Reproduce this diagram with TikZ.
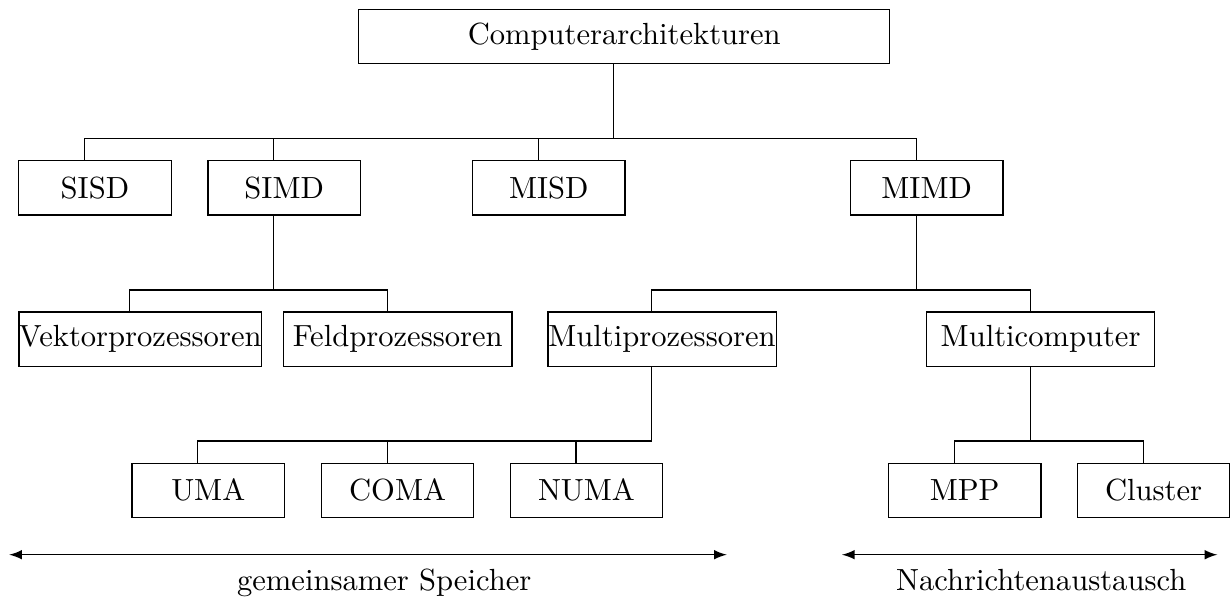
\documentclass[tikz,border=0pt]{standalone}
\usetikzlibrary{arrows}

% one drawing unit
\newdimen\pxu
\pxu=0.327pt

\tikzset{
  archbox/.style={draw, line width=0.42pt, inner xsep=0pt, inner ysep=0pt,
                  minimum height=54.2\pxu},
  narrow/.style={archbox, minimum width=152.4\pxu},
  wide/.style={archbox, minimum width=228.3\pxu},
  link/.style={line width=0.4pt},
  span/.style={<->, >=latex, line width=0.45pt},
}

% box with its connector points (slightly left of the centre)
\newcommand\placebox[5]{%
  \node[#2] (#1) at (#3,#4) {#5};
  \coordinate (#1-n) at ([shift={(-10.4,0)}]#1.north);
  \coordinate (#1-s) at ([shift={(-10.4,0)}]#1.south);
}

\begin{document}
\begin{tikzpicture}[x=\pxu, y=-\pxu]
  \useasboundingbox (0,0) rectangle (1230,601);

  % levels
  \placebox{top}{archbox, minimum width=530.9\pxu}{624.25}{36.3}{Computerarchitekturen}

  \placebox{sisd}{narrow}{94.95}{187.85}{SISD}
  \placebox{simd}{narrow}{284.2}{187.85}{SIMD}
  \placebox{misd}{narrow}{548.85}{187.85}{MISD}
  \placebox{mimd}{narrow}{926.65}{187.85}{MIMD}

  \placebox{vektor}{wide}{140.25}{339.15}{Vektorprozessoren}
  \placebox{feld}{wide}{397.75}{339.15}{Feldprozessoren}
  \placebox{multip}{wide}{662}{339.15}{Multiprozessoren}
  \placebox{multic}{wide}{1040.6}{339.15}{Multicomputer}

  \placebox{uma}{narrow}{208.25}{490.3}{UMA}
  \placebox{coma}{narrow}{397.55}{490.3}{COMA}
  \placebox{numa}{narrow}{586.45}{490.3}{NUMA}
  \placebox{mpp}{narrow}{964.65}{490.3}{MPP}
  \placebox{cluster}{narrow}{1153.55}{490.3}{Cluster}

  % bus heights
  \coordinate (bus1) at (0,138.3);
  \coordinate (bus2) at (0,290);
  \coordinate (bus3) at (0,441);

  % first level
  \draw[link] (top-s) -- (top-s |- bus1);
  \draw[link] (sisd-n) |- (mimd-n |- bus1) -- (mimd-n);
  \draw[link] (simd-n) -- (simd-n |- bus1);
  \draw[link] (misd-n) -- (misd-n |- bus1);

  % second level
  \draw[link] (simd-s) -- (simd-s |- bus2);
  \draw[link] (vektor-n) |- (feld-n |- bus2) -- (feld-n);
  \draw[link] (mimd-s) -- (mimd-s |- bus2);
  \draw[link] (multip-n) |- (multic-n |- bus2) -- (multic-n);

  % third level
  \draw[link] (multip-s) -- (multip-s |- bus3);
  \draw[link] (uma-n) |- (multip-s |- bus3);
  \draw[link] (coma-n) -- (coma-n |- bus3);
  \draw[link] (numa-n) -- (numa-n |- bus3);
  \draw[link] (multic-s) -- (multic-s |- bus3);
  \draw[link] (mpp-n) |- (cluster-n |- bus3) -- (cluster-n);

  % memory model ranges
  \coordinate (shL) at (9.3,554.7);
  \coordinate (shR) at (726.7,554.7);
  \coordinate (msL) at (842,554.7);
  \coordinate (msR) at (1217.3,554.7);
  \draw[span] (shL) -- (shR);
  \draw[span] (msL) -- (msR);
  \node[anchor=base, inner sep=0pt] (shared) at (384.2,590.5) {gemeinsamer Speicher};
  \node[anchor=base, inner sep=0pt] (msg) at (1041.2,590.5) {Nachrichtenaustausch};
\end{tikzpicture}
\end{document}
